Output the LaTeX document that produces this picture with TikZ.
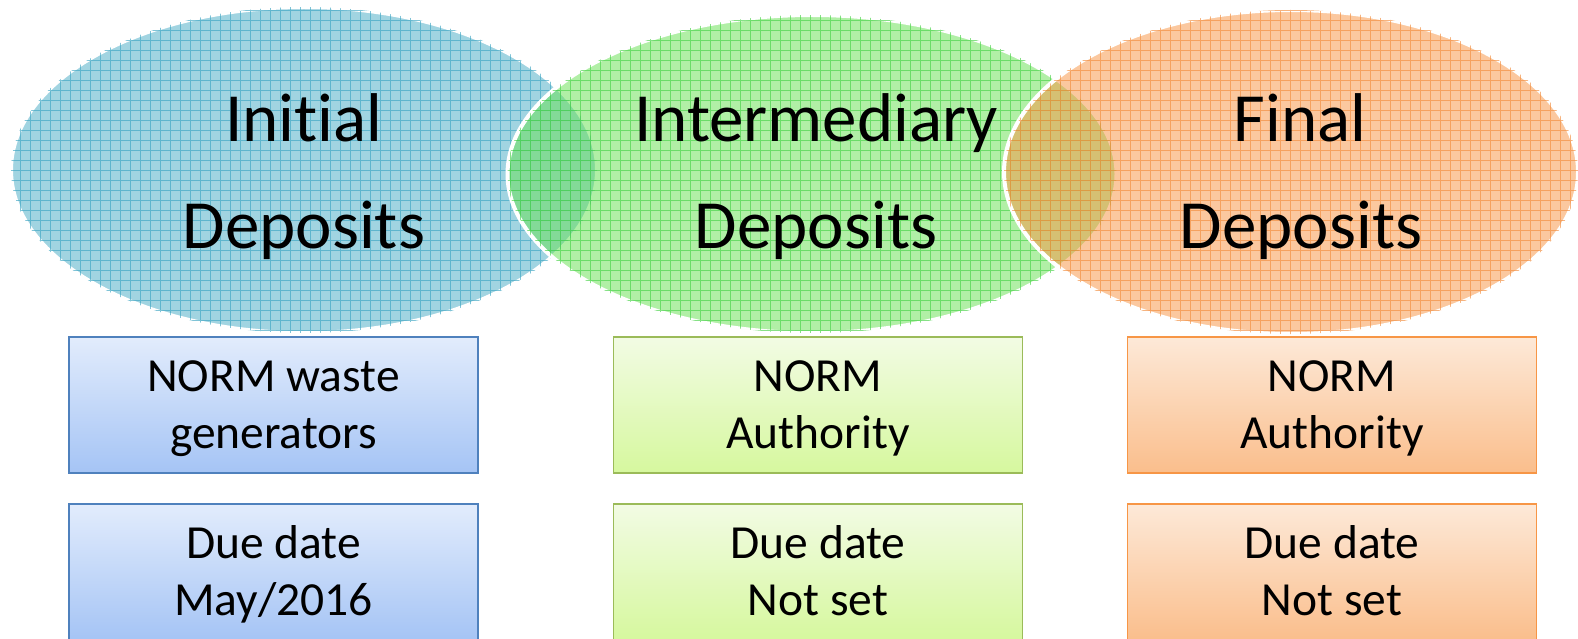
\documentclass[tikz,border=0pt]{standalone}
\usepackage{fontspec}
\setmainfont{Carlito}[Ligatures={NoCommon}]
\usetikzlibrary{shapes.geometric}
\definecolor{aqua}{HTML}{4BACC6}
\definecolor{aqualine}{RGB}{60,165,195}
\definecolor{lgreen}{RGB}{105,225,85}
\definecolor{greenline}{RGB}{70,210,70}
\definecolor{lorange}{HTML}{F79646}
\definecolor{orangeline}{RGB}{242,140,60}
\definecolor{bbord}{HTML}{4F81BD}
\definecolor{bbtop}{RGB}{226,236,252}
\definecolor{bbbot}{RGB}{165,196,245}
\definecolor{gbord}{HTML}{9BBB59}
\definecolor{gbtop}{RGB}{242,251,228}
\definecolor{gbbot}{RGB}{214,248,158}
\definecolor{obord}{HTML}{F79646}
\definecolor{obtop}{RGB}{253,233,216}
\definecolor{obbot}{RGB}{250,190,140}
\tikzset{
  ell/.style={ellipse, inner sep=0pt, draw=white, line width=4pt, fill opacity=0.52, draw opacity=1},
  gline/.style={line width=0.9pt, draw opacity=0.65},
  big/.style={font=\fontsize{69}{80}\selectfont, anchor=base, inner sep=0pt},
  boxbase/.style={rectangle, minimum width=409pt, minimum height=136pt, line width=1.8pt,
    align=center, font=\fontsize{47.5}{57}\selectfont, inner sep=0pt},
  bluebox/.style={boxbase, draw=bbord, top color=bbtop, bottom color=bbbot},
  greenbox/.style={boxbase, draw=gbord, top color=gbtop, bottom color=gbbot},
  orangebox/.style={boxbase, draw=obord, top color=obtop, bottom color=obbot}
}
\newcommand\gridfill[5]{%
  \begin{scope}
    \clip (#1,#2) ellipse [x radius=#3pt, y radius=#4pt];
    \draw[gline,#5] foreach \gx in {0,10,...,1580} {(\gx,0) -- (\gx,345)}
                    foreach \gy in {0,10,...,340} {(0,\gy) -- (1580,\gy)};
  \end{scope}}
\newcommand\topline[1]{\rule{0pt}{40pt}#1}
\newcommand\botline[1]{#1\rule[-10pt]{0pt}{10pt}}
\begin{document}
\begin{tikzpicture}[x=1pt,y=-1pt]
\useasboundingbox (0,0) rectangle (1578,639);
\clip (0,0) rectangle (1578,639);
% ellipses
\node[ell, fill=aqua, minimum width=586pt, minimum height=326pt] (e1) at (304,170) {};
\gridfill{304}{170}{293}{163}{aqualine}
\node[ell, fill=lgreen, minimum width=609pt, minimum height=318pt] (e2) at (812,174) {};
\gridfill{812}{174}{304.5}{159}{greenline}
\node[ell, fill=lorange, minimum width=574pt, minimum height=324pt] (e3) at (1291,172) {};
\gridfill{1291}{172}{287}{162}{orangeline}
% ellipse labels
\node[big] (t1a) at (304,142) {Initial};
\node[big] (t1b) at (304,248) {Deposits};
\node[big] (t2a) at (816,142) {Intermediary};
\node[big] (t2b) at (816,248) {Deposits};
\node[big] (t3a) at (1300,142) {Final};
\node[big] (t3b) at (1301,248) {Deposits};
% boxes
\node[bluebox] (b1) at (273.5,405) {\topline{NORM waste}\\\botline{generators}};
\node[bluebox] (b2) at (273.5,572) {\topline{Due date}\\\botline{May/2016}};
\node[greenbox] (g1) at (818,405) {\topline{NORM}\\\botline{Authority}};
\node[greenbox] (g2) at (818,572) {\topline{Due date}\\\botline{Not set}};
\node[orangebox] (o1) at (1332,405) {\topline{NORM}\\\botline{Authority}};
\node[orangebox] (o2) at (1332,572) {\topline{Due date}\\\botline{Not set}};
\end{tikzpicture}
\end{document}
